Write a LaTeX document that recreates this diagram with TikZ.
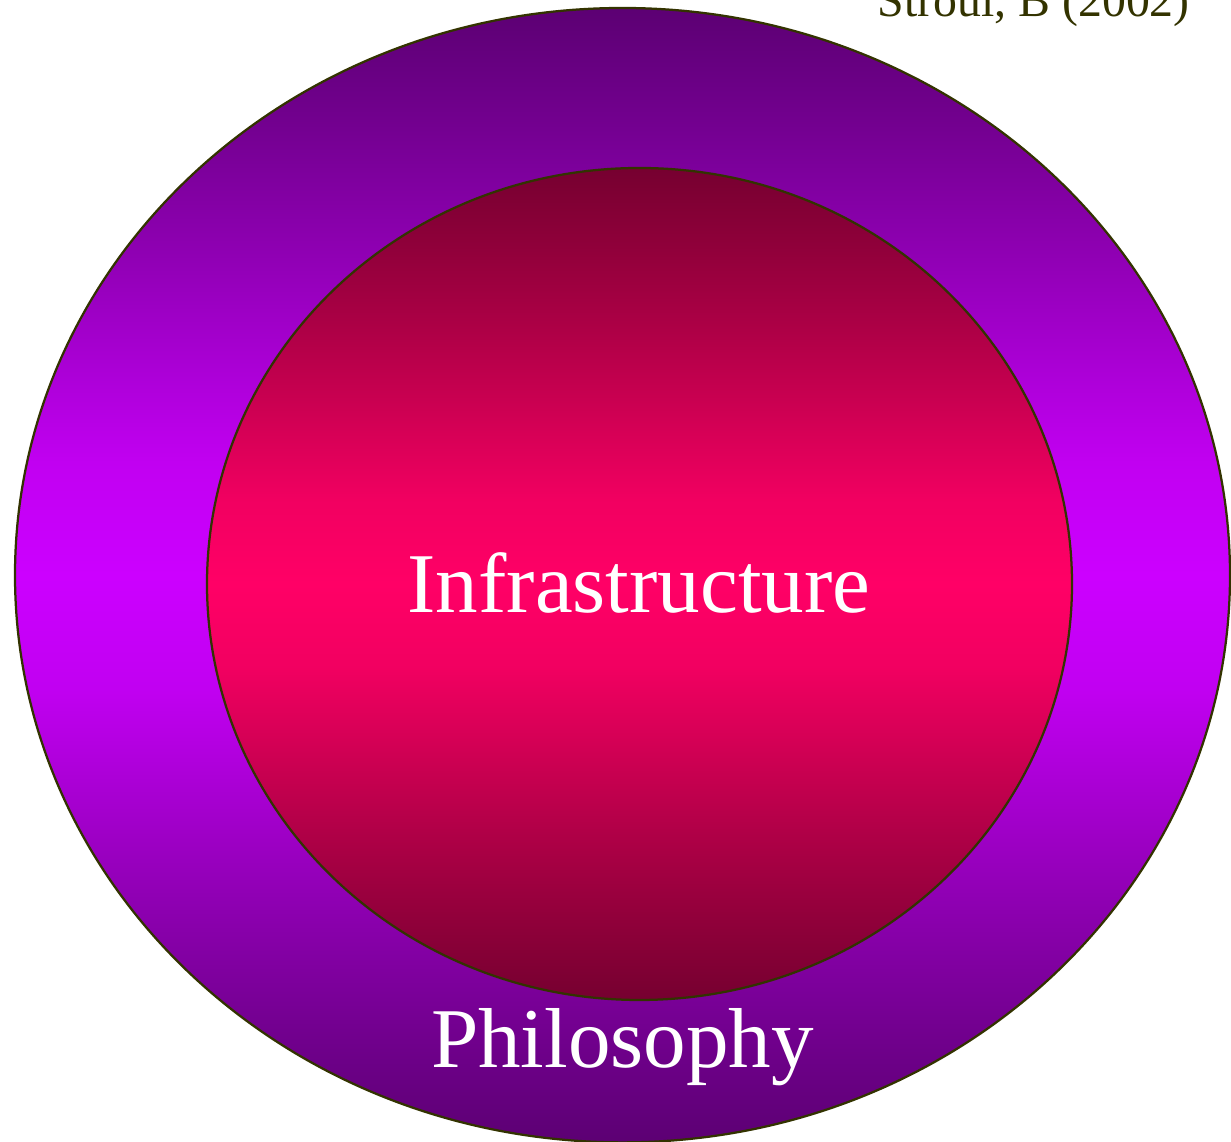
\documentclass[tikz,border=0pt]{standalone}
\usepackage{fontspec}
\setmainfont{Liberation Serif}
\usepackage{tikz}
\usetikzlibrary{positioning}
\definecolor{ringdark}{RGB}{92,0,115}
\definecolor{ringlight}{RGB}{204,0,255}
\definecolor{coredark}{RGB}{118,0,48}
\definecolor{corelight}{RGB}{255,0,102}
\definecolor{olivetext}{RGB}{51,51,0}
% dark at the rims, bright band in the middle
\pgfdeclareverticalshading{ringshade}{100bp}{color(0bp)=(ringdark); color(25bp)=(ringdark);
  color(30bp)=(ringlight!20!ringdark); color(35bp)=(ringlight!42!ringdark); color(40bp)=(ringlight!66!ringdark);
  color(45bp)=(ringlight!90!ringdark); color(50bp)=(ringlight); color(55bp)=(ringlight!90!ringdark);
  color(60bp)=(ringlight!66!ringdark); color(65bp)=(ringlight!42!ringdark); color(70bp)=(ringlight!20!ringdark);
  color(75bp)=(ringdark); color(100bp)=(ringdark)}
\pgfdeclareverticalshading{coreshade}{100bp}{color(0bp)=(coredark); color(25bp)=(coredark);
  color(30bp)=(corelight!20!coredark); color(35bp)=(corelight!42!coredark); color(40bp)=(corelight!66!coredark);
  color(45bp)=(corelight!90!coredark); color(50bp)=(corelight); color(55bp)=(corelight!90!coredark);
  color(60bp)=(corelight!66!coredark); color(65bp)=(corelight!42!coredark); color(70bp)=(corelight!20!coredark);
  color(75bp)=(coredark); color(100bp)=(coredark)}
\tikzset{
  rim/.style={draw=olivetext, line width=1.6pt},
  biglabel/.style={text=white, inner sep=0pt, anchor=base, font=\fontsize{60.5}{72}\selectfont}
}
\begin{document}
\begin{tikzpicture}[x=0.025cm, y=0.025cm]
    \useasboundingbox (0,0) rectangle (1231,1142);
    % Outer ring
    \draw[rim, shading=ringshade] (622.5,566.8) ellipse (607.5 and 567.2);
    % Inner core
    \draw[rim, shading=coreshade] (639.5,558) ellipse (432.5 and 416);
    \node[biglabel] (core) at (639,529) {Infrastructure};
    \node[biglabel] (ring) at (622.5,74) {Philosophy};
    \node[text=olivetext, inner sep=0pt, anchor=base east, font=\fontsize{34}{40}\selectfont] (source) at (1190,1125) {Stroul, B (2002)};
\end{tikzpicture}
\end{document}
